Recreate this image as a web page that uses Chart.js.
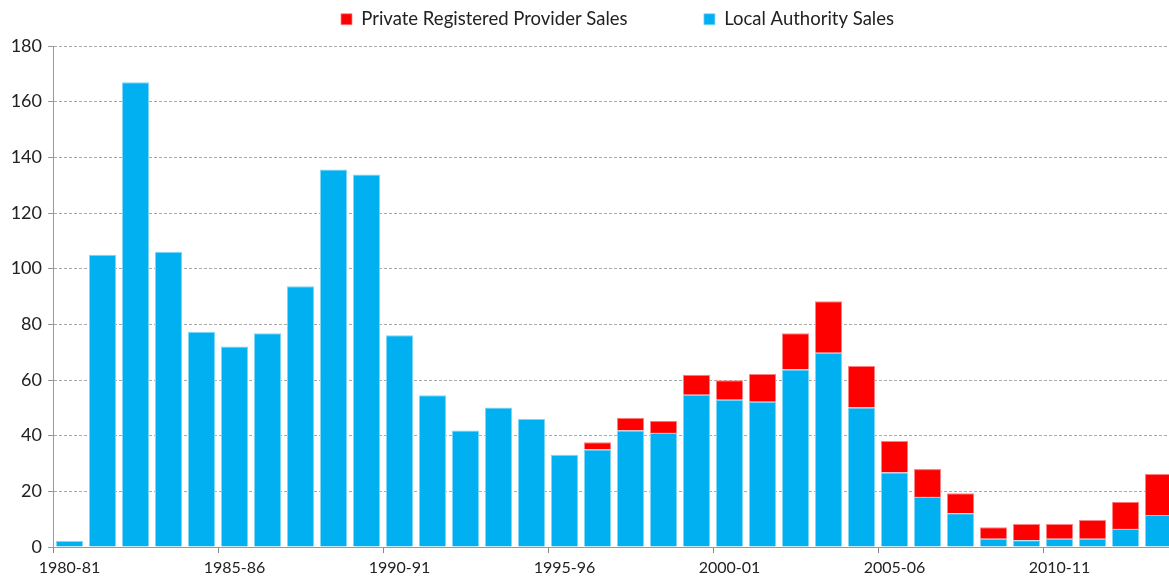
<!DOCTYPE html>
<html>
<head>
<meta charset="utf-8">
<script src="https://cdn.jsdelivr.net/npm/chart.js@4/dist/chart.umd.min.js"></script>
<style>
html,body{margin:0;padding:0;background:#fff;overflow:hidden;}
#wrap{width:1175px;height:579px;position:relative;}
</style>
</head>
<body>
<div id="wrap"><canvas id="c" width="1175" height="579"></canvas></div>
<script>
const categories = ["1980-81","1981-82","1982-83","1983-84","1984-85","1985-86","1986-87","1987-88","1988-89","1989-90",
"1990-91","1991-92","1992-93","1993-94","1994-95","1995-96","1996-97","1997-98","1998-99","1999-00",
"2000-01","2001-02","2002-03","2003-04","2004-05","2005-06","2006-07","2007-08","2008-09","2009-10",
"2010-11","2011-12","2012-13","2013-14"];
const localAuthoritySales = [2.2,105,167,106.1,77.3,72.0,76.8,93.7,135.6,133.8,
76.1,54.5,41.9,50.1,46.0,33.1,35.0,41.9,41.0,54.7,
52.9,52.2,63.8,69.8,50.1,26.8,18.0,12.1,3.0,2.4,
3.0,3.0,6.5,11.5];
const privateRPSales = [0,0,0,0,0,0,0,0,0,0,
0,0,0,0,0,0,2.6,4.5,4.3,7.2,
7.0,10.0,13.0,18.5,14.9,11.3,10.0,7.2,4.1,5.9,
5.3,6.7,9.7,14.7];
const yTicks = [0,20,40,60,80,100,120,140,160,180];

const FONT = "Lato, 'Open Sans', sans-serif";

const legendTweak = {
  id: 'legendTweak',
  beforeInit(chart) {
    const lg = chart.legend;
    if (!lg) return;
    const fit = lg.fit;
    lg.fit = function() { fit.call(this); this.height = 46; };
  },
  afterLayout(chart) {
    const lg = chart.legend;
    if (lg) { lg.left += 30; lg.right += 30; }
  }
};

new Chart(document.getElementById('c'), {
  type: 'bar',
  data: {
    labels: categories,
    datasets: [
      {label: 'Local Authority Sales', data: localAuthoritySales, backgroundColor: '#00B0F0', borderColor:'#7fd7f7', borderWidth:{top:1,left:1,right:1,bottom:0}, barPercentage: 0.82, categoryPercentage: 1},
      {label: 'Private Registered Provider Sales', data: privateRPSales, backgroundColor: '#FF0000', borderColor:'#ff8080', borderWidth:{top:1,left:1,right:1,bottom:0}, barPercentage: 0.82, categoryPercentage: 1}
    ]
  },
  options: {
    responsive: false,
    animation: false,
    layout: {padding: 0},
    plugins: {
      tooltip: {enabled: false},
      legend: {
        position: 'top',
        reverse: true,
        labels: {
          font: {family: FONT, size: 18.5},
          color: '#222',
          boxWidth: 11, boxHeight: 11,
          padding: 10,
          generateLabels: function(chart) {
            const items = Chart.defaults.plugins.legend.labels.generateLabels(chart);
            items.forEach(it => { if (it.datasetIndex === 1) it.text = it.text + '              '; });
            return items;
          }
        }
      }
    },
    scales: {
      x: {
        stacked: true,
        offset: true,
        grid: {
          offset: true,
          drawOnChartArea: false,
          drawTicks: true,
          tickLength: 6,
          color: (ctx) => (ctx.index % 5 === 0 ? '#888' : 'rgba(0,0,0,0)')
        },
        border: {display: true, color: '#999', width: 1},
        ticks: {
          autoSkip: false,
          maxRotation: 0,
          font: {family: FONT, size: 16},
          color: '#222',
          padding: 5,
          callback: function(v, i) { return i % 5 === 0 ? categories[i] : ''; }
        },
        afterFit: (s) => { s.height = 32; }
      },
      y: {
        stacked: true,
        min: 0, max: 180,
        afterBuildTicks: (s) => { s.ticks = yTicks.map(v => ({value: v})); },
        grid: {color: '#aaa', lineWidth: 1, drawTicks: true, tickLength: 5, tickColor:'#999'},
        border: {display: true, color: '#999', width: 1, dash: [3,2]},
        ticks: {font: {family: FONT, size: 18}, color: '#222', padding: 6},
        afterFit: (s) => { s.width = 53; }
      }
    }
  },
  plugins: [legendTweak]
});
</script>
</body>
</html>
